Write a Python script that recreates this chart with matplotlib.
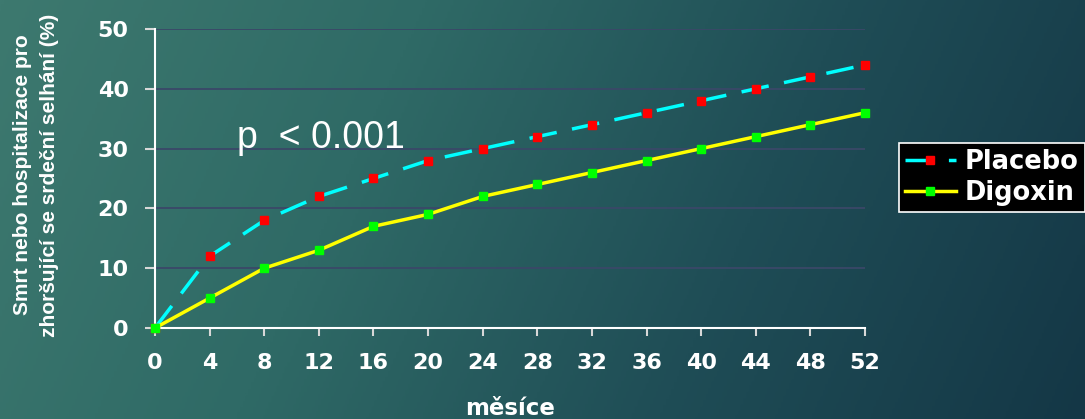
import numpy as np
import matplotlib.pyplot as plt
from matplotlib.colors import LinearSegmentedColormap

plt.rcParams['font.family'] = ['DejaVu Sans']

months = [0, 4, 8, 12, 16, 20, 24, 28, 32, 36, 40, 44, 48, 52]
placebo = [0, 12, 18, 22, 25, 28, 30, 32, 34, 36, 38, 40, 42, 44]
digoxin = [0, 5, 10, 13, 17, 19, 22, 24, 26, 28, 30, 32, 34, 36]
y_ticks = [0, 10, 20, 30, 40, 50]

W, H = 1085, 419
fig = plt.figure(figsize=(W / 100, H / 100), dpi=100)

# slide-style background: teal on the left fading to dark blue on the right
bg = fig.add_axes([0, 0, 1, 1], zorder=-10)
cmap = LinearSegmentedColormap.from_list('bg', ['#3d796f', '#2f6a66', '#1f4d56', '#143746'])
xx, yy = np.meshgrid(np.linspace(0, 1, 400), np.linspace(0, 1, 200))
bg.imshow(0.85 * xx + 0.15 * yy, cmap=cmap, aspect='auto', extent=[0, 1, 0, 1], origin='upper')
bg.axis('off')

ax = fig.add_axes([155 / W, (H - 328) / H, (865 - 155) / W, (328 - 29) / H])
ax.patch.set_alpha(0)

ax.plot(months, placebo, color='#00ffff', lw=2.5, dashes=(8, 4.5),
        marker='s', ms=5.5, mfc='#ff0000', mec='#ff0000', label='Placebo', zorder=3)
ax.plot(months, digoxin, color='#ffff00', lw=2.5,
        marker='s', ms=5.5, mfc='#00ff00', mec='#00ff00', label='Digoxin', zorder=3)

ax.set_xlim(0, 52)
ax.set_ylim(0, 50)
ax.set_xticks(months)
ax.set_yticks(y_ticks)
ax.yaxis.grid(True, color='#3a4868', lw=1.3)
ax.set_axisbelow(True)
for ln in ax.get_lines():
    ln.set_clip_on(False)

for side in ['top', 'right']:
    ax.spines[side].set_visible(False)
for side in ['left', 'bottom']:
    ax.spines[side].set_color('white')
    ax.spines[side].set_linewidth(1.5)

ax.tick_params(axis='y', colors='#d8d8d8', width=1.5, length=7, pad=12,
               labelsize=16, labelcolor='white')
ax.tick_params(axis='x', colors='#d8d8d8', width=1.5, length=6, pad=12,
               labelsize=16, labelcolor='white')
for lbl in ax.get_xticklabels() + ax.get_yticklabels():
    lbl.set_fontweight('bold')

fig.text(510 / W, (H - 415) / H, 'měsíce', color='white', fontsize=16.5,
         fontweight='bold', ha='center', va='baseline')
fig.text(36 / W, 1 - 175 / H, 'Smrt nebo hospitalizace pro\nzhoršující se srdeční selhání (%)',
         rotation=90, color='white', fontsize=15, fontweight='bold',
         family='Liberation Sans', ha='center', va='center', linespacing=1.5)

ax.text(6, 31.8, 'p  < 0.001', color='white', fontsize=27,
        family='Liberation Sans', va='center')

leg = fig.legend(loc='upper left', bbox_to_anchor=(899 / W, (H - 143) / H),
                 facecolor='black', edgecolor='white', framealpha=1, fancybox=False,
                 handlelength=2.0, borderpad=0.22, labelspacing=0.22, handletextpad=0.35,
                 borderaxespad=0, prop={'size': 18.5, 'weight': 'bold'})
leg.get_frame().set_linewidth(1.2)
for t in leg.get_texts():
    t.set_color('white')

fig.savefig('out.png', dpi=100)
